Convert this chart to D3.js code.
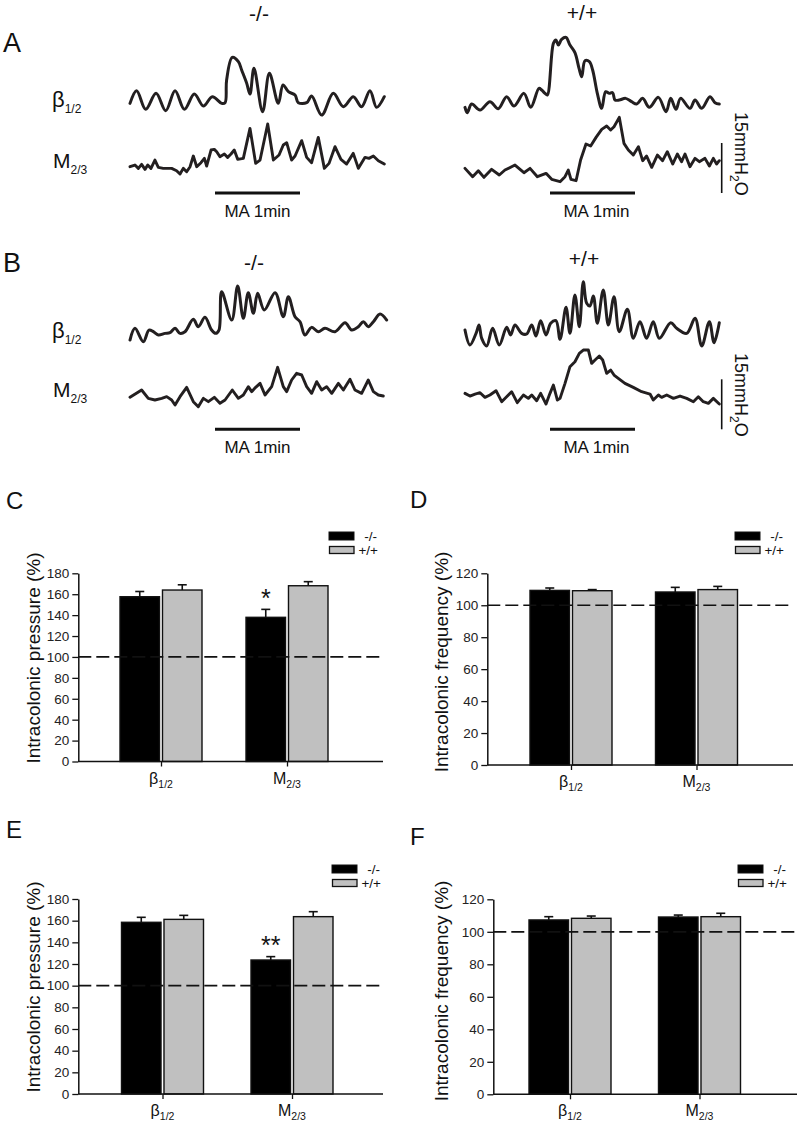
<!DOCTYPE html>
<html><head><meta charset="utf-8">
<script src="https://cdn.jsdelivr.net/npm/d3@7"></script>
<style>
body{margin:0;background:#fff}
svg{display:block}
text{font-family:"Liberation Sans",Arial,Helvetica,sans-serif}
</style>
</head><body>
<svg id="fig" width="800" height="1127"></svg>
<script>
// ---------------- DATA ----------------
// Recording traces: [time (s), pressure above trace baseline (mmH2O)]
const A_KO_beta = [[0,4.0],[4.7,7.8],[11.1,2.2],[18.4,7.0],[25.2,1.8],[31.8,7.8],[38.4,2.2],[45.4,6.8],[51.8,3.2],[58.1,6.0],[64.7,4.0],[67.1,4.2],[68.2,11.0],[72.2,17.8],[76.5,16.5],[78.8,14.0],[82.4,10.0],[84.7,6.8],[87.5,14.5],[93.6,1.5],[98.4,13.0],[104.7,4.0],[108.0,9.5],[111.8,7.5],[116.5,6.5],[118.8,4.2],[124.7,4.2],[128.2,6.2],[135.3,0.5],[143.5,7.0],[150.6,3.0],[157.6,6.0],[163.5,3.0],[169.4,7.8],[174.1,2.8],[179.5,6.0]];
const A_KO_M = [[0,3.0],[3.5,3.5],[5.9,2.5],[8.2,3.7],[10.6,2.2],[12.5,3.5],[14.8,2.5],[17.6,5.0],[20.0,2.8],[23.5,2.5],[29.4,2.5],[32.9,1.8],[35.3,0.8],[37.6,2.5],[40.0,1.5],[42.4,3.0],[44.7,6.2],[47.1,3.0],[50.1,4.2],[52.5,5.5],[54.1,3.2],[57.2,8.0],[59.5,8.2],[61.2,7.5],[63.5,6.0],[66.6,6.8],[68.9,5.8],[71.3,6.8],[73.6,8.0],[76.0,5.2],[80.0,5.5],[84.7,14.5],[88.7,4.0],[91.8,5.0],[97.2,15.8],[101.2,5.0],[105.2,6.5],[108.2,9.5],[110.6,10.2],[114.1,5.0],[116.5,6.2],[121.2,10.8],[124.7,5.8],[128.2,4.2],[132.9,11.8],[137.2,2.5],[140.5,4.0],[144.7,9.0],[148.9,5.2],[152.9,3.8],[157.6,7.0],[161.2,2.5],[165.9,5.8],[168.7,5.5],[171.8,6.2],[175.3,4.8],[179.5,3.8]];
const A_WT_beta = [[0,2.8],[1.6,1.2],[4.7,3.8],[10.6,2.0],[17.6,4.5],[23.5,2.4],[29.4,6.0],[34.6,3.2],[41.6,7.0],[46.4,2.8],[52.2,8.5],[54.1,8.0],[56.5,7.0],[58.1,6.5],[62.4,22.0],[64.2,23.0],[65.9,21.5],[68.2,23.2],[71.3,23.8],[74.1,21.5],[77.6,19.2],[80.5,14.5],[82.4,12.0],[84.7,16.8],[87.8,16.5],[90.1,14.0],[93.4,7.0],[96.5,2.5],[99.3,7.5],[101.9,7.0],[104.2,7.2],[105.9,5.0],[108.9,5.0],[113.4,5.5],[117.6,4.5],[121.2,3.8],[125.4,5.5],[130.1,2.8],[136.5,5.8],[141.9,1.5],[145.2,5.5],[148.9,2.2],[152.2,5.5],[158.8,2.5],[162.4,5.0],[167.1,2.5],[172.9,6.0],[176.5,4.2],[179.5,3.8]];
const A_WT_M = [[0,5.5],[5.4,3.0],[9.4,4.8],[13.4,2.8],[18.8,5.2],[24.2,3.5],[28.2,5.0],[35.3,6.5],[41.6,4.2],[45.9,5.5],[51.1,3.0],[57.2,4.0],[61.2,2.2],[67.1,1.5],[70.6,3.0],[72.9,5.0],[74.8,2.2],[78.4,1.8],[81.6,8.0],[85.4,12.8],[88.7,12.2],[92.5,14.8],[96.5,17.2],[100.0,18.2],[102.8,17.0],[105.2,18.0],[108.9,20.8],[112.2,13.0],[115.3,11.0],[118.8,9.5],[122.4,12.0],[125.4,7.8],[128.2,9.2],[131.8,5.8],[135.8,9.5],[139.5,7.8],[142.8,10.5],[146.6,6.8],[149.9,9.8],[152.9,7.5],[155.3,9.8],[158.8,6.0],[162.4,8.5],[165.4,7.5],[169.4,8.5],[172.5,6.2],[175.3,8.5],[177.6,6.8],[179.5,7.8]];
const B_KO_beta = [[0,2.0],[3.5,5.5],[9.4,1.5],[13.4,5.0],[16.5,4.5],[20.0,3.5],[24.7,4.0],[28.2,4.2],[31.8,5.5],[35.3,4.0],[38.8,4.5],[44.7,8.2],[48.2,6.0],[52.9,8.8],[57.6,5.0],[60.5,4.0],[62.8,5.0],[64.7,16.5],[71.8,8.0],[76.0,18.2],[80.0,8.5],[83.5,16.2],[87.1,10.0],[90.1,16.0],[94.8,11.0],[102.4,16.2],[108.2,9.0],[111.8,15.0],[116.5,9.0],[120.0,7.5],[123.5,3.5],[128.2,5.8],[132.9,4.5],[137.6,5.5],[144.7,4.5],[151.8,7.2],[156.5,5.0],[161.2,6.0],[164.7,7.5],[168.2,6.0],[171.8,7.5],[176.5,9.8],[181.2,8.0]];
const B_KO_M = [[0,3.8],[8.2,6.0],[12.9,3.5],[17.6,3.0],[22.4,3.5],[25.9,4.0],[29.4,3.0],[31.8,1.5],[35.3,4.0],[40.0,6.8],[44.7,2.5],[48.2,1.0],[51.8,3.5],[55.3,2.5],[59.5,3.8],[63.5,2.0],[67.1,3.0],[72.2,6.0],[76.5,3.5],[80.0,4.5],[83.5,7.0],[85.9,5.5],[88.7,6.8],[91.8,8.0],[95.3,4.5],[100.0,7.0],[104.2,12.8],[108.2,7.0],[110.6,5.5],[114.1,9.0],[117.6,11.0],[121.2,10.5],[124.7,7.0],[128.2,5.0],[131.8,8.5],[135.3,6.0],[138.8,7.0],[142.4,5.0],[147.1,8.0],[150.6,6.0],[155.3,9.2],[158.8,6.0],[163.5,5.0],[168.2,9.0],[171.8,5.5],[175.3,4.5],[178.8,4.2]];
const B_WT_beta = [[0,6.0],[3.5,1.5],[7.8,5.0],[9.9,7.5],[11.8,3.5],[15.3,1.2],[19.5,6.5],[24.2,1.5],[29.4,6.8],[32.2,4.5],[35.3,7.5],[40.0,5.0],[43.5,4.8],[47.1,7.5],[50.1,4.2],[53.4,8.8],[57.2,4.5],[60.5,8.0],[64.2,8.8],[67.1,3.2],[71.3,12.8],[74.1,5.0],[77.6,16.5],[80.7,7.0],[83.5,20.5],[85.9,14.0],[88.2,13.2],[90.6,16.2],[93.4,8.0],[97.6,18.0],[101.2,7.5],[105.2,16.0],[108.9,5.5],[114.6,12.2],[118.8,3.5],[123.5,8.5],[128.2,3.5],[132.9,8.5],[137.2,3.5],[145.2,8.2],[149.4,6.5],[156.5,5.0],[162.4,9.5],[167.1,1.2],[172.5,8.5],[175.8,2.2],[179.5,8.2]];
const B_WT_M = [[0,4.0],[3.5,3.2],[7.1,3.8],[10.6,4.2],[14.1,2.8],[17.6,3.5],[21.9,4.8],[25.9,1.5],[29.4,3.0],[32.9,4.5],[36.9,1.2],[41.2,3.5],[44.7,2.5],[47.1,3.5],[50.6,1.8],[53.4,4.0],[57.2,0.8],[60.0,4.0],[62.4,6.5],[65.2,2.0],[67.1,2.5],[70.6,7.0],[74.1,12.0],[77.6,13.5],[80.7,16.0],[83.5,17.0],[87.1,17.0],[89.4,13.0],[91.8,14.0],[94.8,15.2],[97.2,14.0],[100.0,10.0],[102.8,11.0],[105.2,9.5],[108.2,8.5],[112.9,7.0],[118.8,5.8],[124.7,4.5],[130.6,3.8],[132.9,2.0],[136.5,3.5],[138.8,2.8],[142.4,3.5],[147.1,2.5],[151.8,3.2],[156.5,2.5],[161.2,1.5],[164.7,3.0],[168.2,1.5],[171.8,1.0],[175.3,2.5],[179.5,0.8]];
const recordLength = 180;         // s
const maWindow = [60, 120];       // MA application, s
const scaleBarValue = 15;         // mmH2O

// Bar charts
const genotypes = ["-/-", "+/+"];
const categories = ["β", "M"];
const categorySubs = ["1/2", "2/3"];
const yTicksPressure = [0,20,40,60,80,100,120,140,160,180];
const yTicksFrequency = [0,20,40,60,80,100,120];
const C_KO = [157.6, 137.9], C_KO_err = [5.0, 7.6];
const C_WT = [164.0, 168.1], C_WT_err = [5.0, 3.9];
const D_KO = [109.3, 108.3], D_KO_err = [1.5, 2.9];
const D_WT = [109.1, 109.8], D_WT_err = [0.7, 2.0];
const E_KO = [158.5, 123.7], E_KO_err = [4.6, 3.1];
const E_WT = [161.2, 163.7], E_WT_err = [3.7, 4.6];
const F_KO = [107.3, 109.1], F_KO_err = [2.0, 1.2];
const F_WT = [108.3, 109.3], F_WT_err = [1.4, 2.1];
const baselineLevel = 100;

// ---------------- DRAW ----------------
const svg = d3.select("#fig");
const ink = "#231f20";

function subText(x, y, base, sub, size, subSize, dy, anchor) {
  const t = svg.append("text").attr("x", x).attr("y", y)
    .attr("font-size", size).attr("fill", "#111").attr("text-anchor", anchor || "start");
  t.append("tspan").text(base);
  t.append("tspan").attr("font-size", subSize).attr("dy", dy).text(sub);
  return t;
}
function letter(x, y, s, size) {
  svg.append("text").attr("x", x).attr("y", y).attr("font-size", size).attr("fill", "#111").text(s);
}

// ---- traces ----
const traceBlocks = [
  {x0:130, rows:[{d:A_KO_beta, yb:116.7, noisy:false},{d:A_KO_M, yb:176.7, noisy:true}], maY:193, label:"-/-", lx:259, ly:21},
  {x0:465, rows:[{d:A_WT_beta, yb:116.7, noisy:false},{d:A_WT_M, yb:186.7, noisy:true}], maY:193, label:"+/+", lx:582, ly:20, bar:{x:721.7, y:193, tx:735, ty:112}},
  {x0:130, rows:[{d:B_KO_beta, yb:346.7, noisy:false},{d:B_KO_M, yb:410, noisy:true}], maY:429.3, label:"-/-", lx:254, ly:270},
  {x0:465, rows:[{d:B_WT_beta, yb:350, noisy:false},{d:B_WT_M, yb:406.7, noisy:true}], maY:429.3, label:"+/+", lx:584, ly:266, bar:{x:721.7, y:429.3, tx:735, ty:353}}
];
traceBlocks.forEach(b => {
  const x = d3.scaleLinear().domain([0, recordLength]).range([b.x0, b.x0 + 255]);
  b.rows.forEach(r => {
    const y = d3.scaleLinear().domain([0, scaleBarValue]).range([r.yb, r.yb - 50]);
    const line = d3.line().x(d => x(d[0])).y(d => y(d[1]))
      .curve(r.noisy ? d3.curveLinear : d3.curveCatmullRom.alpha(0.5));
    svg.append("path").attr("d", line(r.d)).attr("fill", "none")
      .attr("stroke", ink).attr("stroke-width", r.noisy ? 2.9 : 3)
      .attr("stroke-linejoin", "round").attr("stroke-linecap", "round");
  });
  // MA bar
  svg.append("line").attr("x1", x(maWindow[0])).attr("x2", x(maWindow[1]))
    .attr("y1", b.maY).attr("y2", b.maY).attr("stroke", "#111").attr("stroke-width", 3);
  svg.append("text").attr("x", (x(maWindow[0]) + x(maWindow[1])) / 2 + (b.x0 > 300 ? 4 : 0))
    .attr("y", b.maY + 24).attr("text-anchor", "middle").attr("font-size", 17).attr("fill", "#111").text("MA 1min");
  svg.append("text").attr("x", b.lx).attr("y", b.ly).attr("text-anchor", "middle")
    .attr("font-size", 21).attr("fill", "#111").text(b.label);
  if (b.bar) {
    const ys = d3.scaleLinear().domain([0, scaleBarValue]).range([b.bar.y, b.bar.y - 50]);
    svg.append("line").attr("x1", b.bar.x).attr("x2", b.bar.x).attr("y1", ys(0)).attr("y2", ys(scaleBarValue))
      .attr("stroke", "#111").attr("stroke-width", 1.6);
    const t = svg.append("text").attr("transform", `translate(${b.bar.tx},${b.bar.ty}) rotate(90)`)
      .attr("font-size", 18).attr("fill", "#111");
    t.append("tspan").text(scaleBarValue + "mmH");
    t.append("tspan").attr("font-size", 12).attr("dy", 5).text("2");
    t.append("tspan").attr("dy", -5).text("O");
  }
});
// row labels
[[107,168],[338,397]].forEach(([yb, ym]) => {
  subText(52, yb, "β", "1/2", 22, 12, 6);
  subText(53, ym, "M", "2/3", 21, 12, 6);
});
letter(3, 52, "A", 27);
letter(3, 272, "B", 27);

// ---- bar charts ----
const barPanels = [
  {letter:"C", lx:6, ly:509, ko:C_KO, koErr:C_KO_err, wt:C_WT, wtErr:C_WT_err, ticks:yTicksPressure, max:180,
   axisX:78.3, y0:761.5, yTop:573.3, centers:[161,287], xEnd:383, legend:[329,532], title:"Intracolonic pressure (%)",
   titleX:40, titleY:658, catY:784, sig:"*", sigY:607},
  {letter:"D", lx:410, ly:508, ko:D_KO, koErr:D_KO_err, wt:D_WT, wtErr:D_WT_err, ticks:yTicksFrequency, max:120,
   axisX:487.3, y0:765, yTop:573.3, centers:[571,696.5], xEnd:793, legend:[735,532], title:"Intracolonic frequency (%)",
   titleX:448, titleY:662, catY:787},
  {letter:"E", lx:6, ly:838, ko:E_KO, koErr:E_KO_err, wt:E_WT, wtErr:E_WT_err, ticks:yTicksPressure, max:180,
   axisX:78.3, y0:1094, yTop:899, centers:[162.5,292], xEnd:383, legend:[332,865], title:"Intracolonic pressure (%)",
   titleX:40, titleY:987, catY:1116, sig:"**", sigY:954},
  {letter:"F", lx:410, ly:845, ko:F_KO, koErr:F_KO_err, wt:F_WT, wtErr:F_WT_err, ticks:yTicksFrequency, max:120,
   axisX:493.3, y0:1094.3, yTop:899.3, centers:[570,699.5], xEnd:797, legend:[738,865], title:"Intracolonic frequency (%)",
   titleX:448, titleY:991, catY:1116}
];

barPanels.forEach(p => {
  letter(p.lx, p.ly, p.letter, 24);
  const y = d3.scaleLinear().domain([0, p.max]).range([p.y0, p.yTop]);
  const x = d3.scalePoint().domain(categories).range(p.centers);
  const inner = d3.scaleBand().domain(genotypes).range([-41, 41]).paddingInner(0.07);
  const g = svg.append("g");

  const rows = [];
  categories.forEach((c, i) => {
    rows.push({cat:c, gen:genotypes[0], v:p.ko[i], e:p.koErr[i]});
    rows.push({cat:c, gen:genotypes[1], v:p.wt[i], e:p.wtErr[i]});
  });
  g.selectAll("rect.bar").data(rows).join("rect")
    .attr("x", d => x(d.cat) + inner(d.gen)).attr("width", inner.bandwidth())
    .attr("y", d => y(d.v)).attr("height", d => y(0) - y(d.v))
    .attr("fill", d => d.gen === "-/-" ? "#000" : "#c0c0c0")
    .attr("stroke", "#111").attr("stroke-width", 1.4);
  rows.forEach(d => {
    const cx = x(d.cat) + inner(d.gen) + inner.bandwidth() / 2;
    g.append("line").attr("x1", cx).attr("x2", cx).attr("y1", y(d.v)).attr("y2", y(d.v + d.e))
      .attr("stroke", "#111").attr("stroke-width", 1.6);
    g.append("line").attr("x1", cx - 4.5).attr("x2", cx + 4.5).attr("y1", y(d.v + d.e)).attr("y2", y(d.v + d.e))
      .attr("stroke", "#111").attr("stroke-width", 1.6);
  });
  g.append("line").attr("x1", p.axisX).attr("x2", p.xEnd).attr("y1", y(baselineLevel)).attr("y2", y(baselineLevel))
    .attr("stroke", "#111").attr("stroke-width", 1.7).attr("stroke-dasharray", "13,5");

  const ya = g.append("g").attr("transform", `translate(${p.axisX},0)`)
    .call(d3.axisLeft(y).tickValues(p.ticks).tickSize(6).tickSizeOuter(0).tickPadding(3));
  ya.select(".domain").attr("stroke", "#111").attr("stroke-width", 1.5);
  ya.selectAll(".tick line").attr("stroke", "#111").attr("stroke-width", 1.3);
  ya.selectAll(".tick text").attr("font-size", 13.5).attr("fill", "#222")
    .attr("font-family", "'Liberation Sans', Arial, sans-serif");
  g.append("line").attr("x1", p.axisX).attr("x2", p.xEnd).attr("y1", y(0)).attr("y2", y(0))
    .attr("stroke", "#111").attr("stroke-width", 1.5);
  const xa = g.append("g").attr("transform", `translate(0,${y(0)})`)
    .call(d3.axisBottom(x).tickSize(5).tickFormat(""));
  xa.select(".domain").remove();
  xa.selectAll(".tick line").attr("stroke", "#111").attr("stroke-width", 1.3);
  categories.forEach((c, i) => subText(x(c), p.catY, c, categorySubs[i], 16, 10.5, 4, "middle"));

  svg.append("text").attr("transform", `translate(${p.titleX},${p.titleY}) rotate(-90)`)
    .attr("text-anchor", "middle").attr("font-size", 19).attr("fill", "#111").text(p.title);

  const [lx, ly] = p.legend;
  svg.append("rect").attr("x", lx).attr("y", ly).attr("width", 25).attr("height", 8)
    .attr("fill", "#000").attr("stroke", "#111").attr("stroke-width", 1);
  svg.append("rect").attr("x", lx + 0.5).attr("y", ly + 14.5).attr("width", 24.5).attr("height", 7)
    .attr("fill", "#c0c0c0").attr("stroke", "#111").attr("stroke-width", 1.3);
  svg.append("text").attr("x", lx + 48).attr("y", ly + 8.5).attr("text-anchor", "end")
    .attr("font-size", 13.5).attr("fill", "#111").text(genotypes[0]);
  svg.append("text").attr("x", lx + 49).attr("y", ly + 23).attr("text-anchor", "end")
    .attr("font-size", 13.5).attr("fill", "#111").text(genotypes[1]);

  if (p.sig) {
    svg.append("text").attr("x", x(categories[1]) + inner(genotypes[0]) + inner.bandwidth() / 2)
      .attr("y", p.sigY).attr("text-anchor", "middle").attr("font-size", 25).attr("fill", "#111").text(p.sig);
  }
});
</script>
</body></html>
